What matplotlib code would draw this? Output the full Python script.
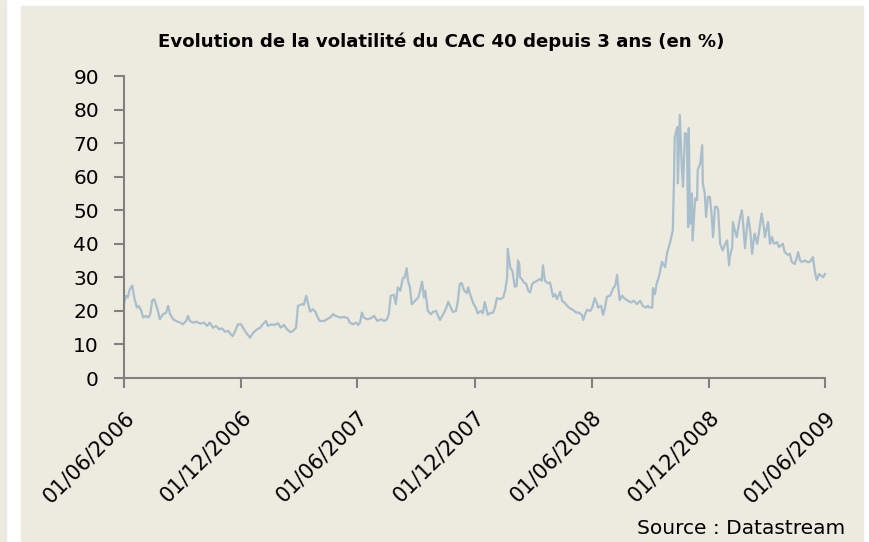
import matplotlib
matplotlib.use("Agg")
import matplotlib.pyplot as plt
import matplotlib.dates as mdates
import pandas as pd
from matplotlib.patches import Rectangle

plt.rcParams['font.family'] = ['DejaVu Sans']

# volatilite CAC 40 (jours depuis le 01/06/2006, %)
days = [0, 3, 6, 9, 13, 16, 20, 23, 27, 30, 34, 38, 41, 44, 47, 50, 53, 56, 61, 66,
        69, 72, 77, 81, 88, 92, 97, 100, 103, 108, 113, 119, 125, 130, 134, 139, 144, 149, 153, 158,
        163, 167, 170, 175, 178, 183, 186, 191, 197, 202, 208, 213, 217, 222, 225, 230, 235, 241, 245, 250,
        255, 260, 264, 269, 272, 278, 281, 285, 288, 291, 295, 299, 303, 306, 313, 317, 322, 327, 331, 338,
        344, 350, 353, 358, 363, 366, 369, 372, 375, 380, 386, 391, 396, 402, 407, 411, 414, 417, 422, 425,
        428, 432, 436, 439, 442, 444, 447, 450, 455, 460, 463, 466, 469, 471, 475, 480, 483, 488, 491, 494,
        499, 503, 507, 511, 514, 519, 522, 525, 528, 532, 536, 538, 541, 546, 550, 553, 558, 561, 564, 568,
        569, 572, 577, 580, 583, 588, 593, 596, 599, 600, 604, 607, 608, 611, 614, 616, 618, 619, 622, 625,
        629, 632, 635, 638, 641, 646, 650, 653, 655, 658, 663, 666, 671, 674, 677, 682, 685, 688, 693, 697,
        702, 707, 711, 716, 718, 721, 724, 729, 732, 736, 740, 741, 746, 749, 752, 755, 760, 765, 768, 771,
        772, 775, 779, 782, 788, 793, 797, 802, 807, 811, 816, 819, 822, 826, 827, 830, 833, 836, 838, 841,
        846, 849, 854, 858, 860, 861, 865, 866, 869, 872, 874, 877, 880, 882, 883, 885, 888, 889, 893, 896,
        897, 901, 904, 905, 908, 910, 913, 916, 919, 921, 924, 927, 929, 932, 936, 940, 943, 946, 947, 951,
        952, 955, 958, 963, 966, 968, 971, 974, 976, 979, 982, 985, 986, 990, 994, 997, 1001, 1002, 1007, 1010,
        1013, 1016, 1021, 1024, 1030, 1033, 1038, 1041, 1044, 1049, 1052, 1054, 1057, 1060, 1065, 1069, 1072, 1076, 1077, 1080,
        1083, 1087, 1090, 1093, 1096]
vol = [22, 24.5, 24, 26.5, 27.5, 24, 21, 21.5, 20, 18, 18.5, 18, 19, 23, 23.5, 22, 20, 17.5, 19, 19.5,
       21.5, 19, 17.5, 17, 16.5, 16, 17, 18.5, 17, 16.5, 16.8, 16.2, 16.5, 15.5, 16.5, 15, 15.5, 14.5, 14.8, 13.8,
       14, 13, 12.5, 14.5, 16, 16, 15, 13.5, 12, 13.5, 14.5, 15, 16, 17, 15.5, 16, 15.8, 16.3, 15, 15.8,
       14.5, 13.7, 14, 15, 21.5, 22, 21.8, 24.5, 22, 19.8, 20.5, 19.8, 18, 17, 17, 17.5, 18, 19, 18.5, 18,
       18.2, 17.8, 16.5, 16, 16.5, 15.8, 16.5, 19.5, 18, 17.5, 17.8, 18.5, 17, 17.5, 17, 17.5, 19, 24.5, 24.8, 22,
       27, 26, 29.8, 30, 32.7, 29, 27, 22, 23, 24, 26, 28.7, 24, 26, 20, 19, 19.7, 20, 18.5, 17.3,
       19, 20.5, 22.7, 21, 19.7, 20, 23, 28, 28.3, 26, 25.3, 27, 25, 22.3, 21, 19.3, 20, 19.3, 22.6, 19.5,
       18.8, 19.3, 19.5, 21, 23.8, 23.5, 24, 26.2, 30, 38.5, 32.8, 32, 31, 27.2, 27.5, 35, 34, 30, 29.5, 28.5,
       28, 26, 25.5, 28, 28.5, 29, 29.5, 29, 33.6, 29, 28.2, 28.5, 24.2, 25, 23.5, 25.7, 23, 22.6, 21.5, 20.8,
       20.3, 19.5, 19.5, 18.8, 17.3, 19, 20.3, 20, 21, 23.8, 22, 21, 21.5, 18.8, 21, 24.2, 24.5, 26.8, 27.5, 30.7,
       28.7, 23.2, 24.5, 23.8, 23, 22.5, 23, 22, 23, 21.5, 21, 21.5, 21, 21, 26.8, 25, 28.3, 30, 31.6, 34.6,
       33, 37.2, 40.5, 44, 60, 71.8, 74.8, 58, 78.4, 63, 57, 73, 72.5, 45, 74.5, 46, 55, 41, 53.5, 53,
       62, 64, 69.4, 58, 55, 48, 54, 54, 48, 42, 51, 51, 50, 40, 38, 40, 41, 33.6, 36, 39,
       46.5, 44, 42, 47.7, 50, 46, 38.7, 45, 48, 44, 37, 42, 43, 40, 45, 49, 44, 42, 46.5, 40,
       42, 40, 40.5, 39, 40, 37.5, 36.7, 37, 34.6, 34, 36, 37.5, 35, 34.6, 35, 34.5, 34.6, 35.5, 36, 32,
       29.2, 31, 30.5, 30, 31]

tick_dates = ["2006-06-01", "2006-12-01", "2007-06-01", "2007-12-01",
              "2008-06-01", "2008-12-01", "2009-06-01"]

beige = "#EDEADF"
grey = "#808080"

dates = pd.Timestamp("2006-06-01") + pd.to_timedelta(days, unit="D")

fig = plt.figure(figsize=(8.7, 5.42), dpi=100)
fig.patch.set_facecolor("white")
fig.patches.append(Rectangle((21 / 870, 0), (863 - 21) / 870, 1 - 6 / 542,
                             transform=fig.transFigure, color=beige, zorder=-10))
fig.patches.append(Rectangle((0, 0), 6 / 870, 1, transform=fig.transFigure,
                             color=beige, zorder=-10))

ax = fig.add_axes([124 / 870, 1 - 378 / 542, (825 - 124) / 870, (378 - 76) / 542])
ax.set_facecolor("none")
ax.plot(dates, vol, color="#A9BECC", linewidth=1.6, clip_on=False)

ax.set_ylim(0, 90)
ax.set_yticks(range(0, 91, 10))
ax.set_xlim(pd.Timestamp(tick_dates[0]), pd.Timestamp(tick_dates[-1]))
ax.set_xticks([pd.Timestamp(d) for d in tick_dates])
ax.xaxis.set_major_formatter(mdates.DateFormatter("%d/%m/%Y"))

for side in ["top", "right"]:
    ax.spines[side].set_visible(False)
for side in ["left", "bottom"]:
    ax.spines[side].set_color(grey)
    ax.spines[side].set_linewidth(1.5)
ax.tick_params(axis="both", colors=grey, length=7, width=1.5, labelcolor="black", labelsize=14.5)
ax.tick_params(axis="y", pad=11)
ax.tick_params(axis="x", pad=14)
for lbl in ax.get_xticklabels():
    lbl.set_rotation(45)
    lbl.set_ha("right")
    lbl.set_va("top")
    lbl.set_rotation_mode("anchor")
    lbl.set_fontsize(15)

fig.text(441 / 870, 1 - 42 / 542, "Evolution de la volatilité du CAC 40 depuis 3 ans (en %)",
         ha="center", va="center", fontsize=13.1, fontweight="bold")
fig.text(845 / 870, 1 - 528 / 542, "Source : Datastream", ha="right", va="center", fontsize=14.5)

fig.savefig("out.png", dpi=100)
